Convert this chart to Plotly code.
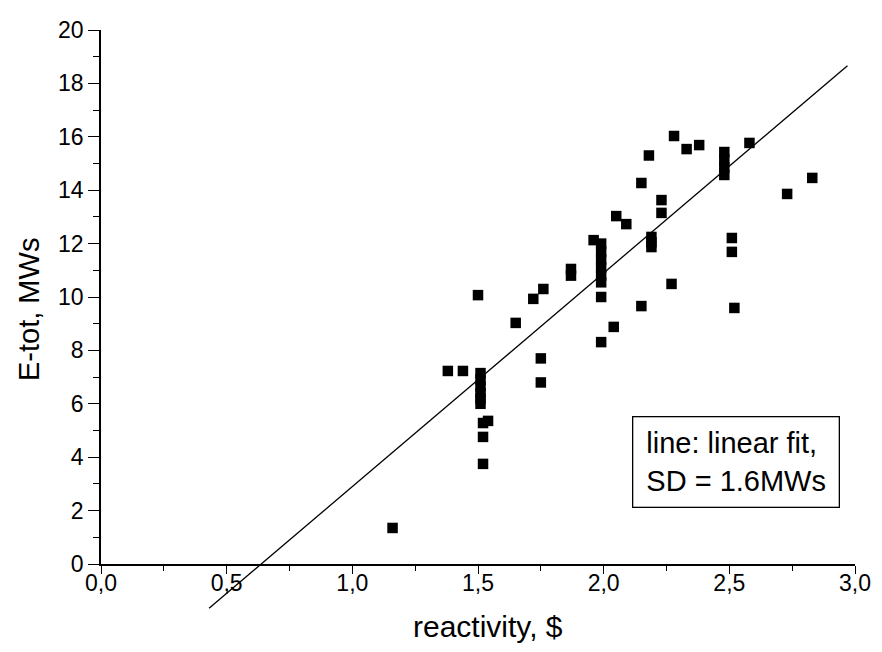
import plotly.graph_objects as go

# ---- data ----
reactivity = [1.16, 1.38, 1.44, 1.50,
              1.51, 1.51, 1.51, 1.51, 1.51, 1.51,
              1.52, 1.54, 1.52, 1.52,
              1.65, 1.72, 1.76, 1.75, 1.75,
              1.87, 1.87, 1.96,
              1.99, 1.99, 1.99, 1.99, 1.99, 1.99, 1.99, 1.99,
              2.04, 2.05, 2.09, 2.15, 2.15, 2.18,
              2.19, 2.19, 2.19,
              2.23, 2.23, 2.27, 2.28, 2.33, 2.38,
              2.48, 2.48, 2.48, 2.48,
              2.51, 2.51, 2.52, 2.58, 2.73, 2.83]
e_tot = [1.35, 7.23, 7.23, 10.07,
         7.15, 6.9, 6.65, 6.4, 6.2, 6.0,
         5.28, 5.36, 4.76, 3.75,
         9.03, 9.93, 10.3, 7.7, 6.8,
         11.05, 10.8, 12.13,
         12.0, 11.7, 11.4, 11.1, 10.8, 10.55, 10.0, 8.31,
         8.88, 13.03, 12.73, 14.27, 9.66, 15.3,
         12.25, 12.05, 11.87,
         13.63, 13.15, 10.49, 16.03, 15.54, 15.69,
         15.43, 15.15, 14.85, 14.57,
         12.21, 11.69, 9.59, 15.77, 13.86, 14.46]

fit_slope = 8.0
fit_intercept = -5.1
fit_x_range = [0.43, 2.97]

x_ticks = [0.0, 0.5, 1.0, 1.5, 2.0, 2.5, 3.0]
y_ticks = [0, 2, 4, 6, 8, 10, 12, 14, 16, 18, 20]

x_title = "reactivity, $"
y_title = "E-tot, MWs"
note_text = "line: linear fit,<br>SD = 1.6MWs"

# ---- layout geometry (window pixels; page body has an 8px default margin) ----
OFF = 8
WIN_W, WIN_H = 882, 652
W, H = WIN_W - OFF, WIN_H - OFF
plot_left, plot_right, plot_top, plot_bottom = 101, 855, 30, 615
ml, mt = plot_left - OFF, plot_top - OFF
mr, mb = WIN_W - plot_right, WIN_H - plot_bottom
plot_w = plot_right - plot_left
plot_h = plot_bottom - plot_top
y_zero_px = 564
main_bottom = (plot_bottom - y_zero_px) / plot_h
y_max = 20
y2_low = -y_max * main_bottom / (1 - main_bottom)


def px_x(px):
    return (px - plot_left) / plot_w


def px_y(py):
    return (plot_bottom - py) / plot_h


FONT = "Liberation Sans, Arial, Helvetica, sans-serif"

fit_y = [fit_slope * v + fit_intercept for v in fit_x_range]

fig = go.Figure()
fig.add_trace(go.Scatter(
    x=fit_x_range, y=fit_y, mode="lines",
    line=dict(color="black", width=1.3),
    xaxis="x", yaxis="y2", showlegend=False,
))
fig.add_trace(go.Scatter(
    x=reactivity, y=e_tot, mode="markers",
    marker=dict(symbol="square", size=10.5, color="black", line=dict(width=0)),
    xaxis="x", yaxis="y", showlegend=False, cliponaxis=False,
))

axis_common = dict(
    showline=True, linecolor="black", linewidth=1.7, mirror=False,
    ticks="outside", tickcolor="black", tickwidth=1.4,
    showgrid=False, zeroline=False,
    tickfont=dict(family=FONT, size=23, color="black"),
)

fig.update_layout(
    width=W, height=H,
    margin=dict(l=ml, r=mr, t=mt, b=mb, autoexpand=False),
    paper_bgcolor="white", plot_bgcolor="rgba(0,0,0,0)",
    separators=", ",
    font=dict(family=FONT, color="black"),
    xaxis=dict(
        domain=[0, 1], range=[0, 3], anchor="y",
        tickvals=x_ticks, tickformat=".1f", ticklen=8,
        ticklabelstandoff=-10,
        minor=dict(dtick=0.25, tick0=0, ticks="outside", ticklen=5,
                   tickcolor="black", tickwidth=1.2, showgrid=False),
        automargin=False, **axis_common,
    ),
    yaxis=dict(
        domain=[main_bottom, 1], range=[0, y_max], anchor="x",
        tickvals=y_ticks, ticklen=11,
        minor=dict(dtick=1, tick0=0, ticks="outside", ticklen=6,
                   tickcolor="black", tickwidth=1.2, showgrid=False),
        automargin=False, **axis_common,
    ),
    yaxis2=dict(
        domain=[0, 1], range=[y2_low, y_max], anchor="x",
        visible=False, showgrid=False, zeroline=False,
    ),
    annotations=[
        dict(text=x_title, xref="paper", yref="paper",
             x=px_x(488), y=px_y(626),
             xanchor="center", yanchor="middle", showarrow=False,
             font=dict(family=FONT, size=30, color="black")),
        dict(text=y_title, xref="paper", yref="paper", textangle=-90,
             x=px_x(29), y=px_y(310),
             xanchor="center", yanchor="middle", showarrow=False,
             font=dict(family=FONT, size=29, color="black")),
        dict(text=note_text, xref="x", yref="y", x=2.113, y=5.54,
             xanchor="left", yanchor="top", align="left", showarrow=False,
             height=63, borderpad=13, bordercolor="black", borderwidth=1.3,
             bgcolor="white",
             font=dict(family=FONT, size=29, color="black")),
    ],
)

fig.write_html("out.html")
